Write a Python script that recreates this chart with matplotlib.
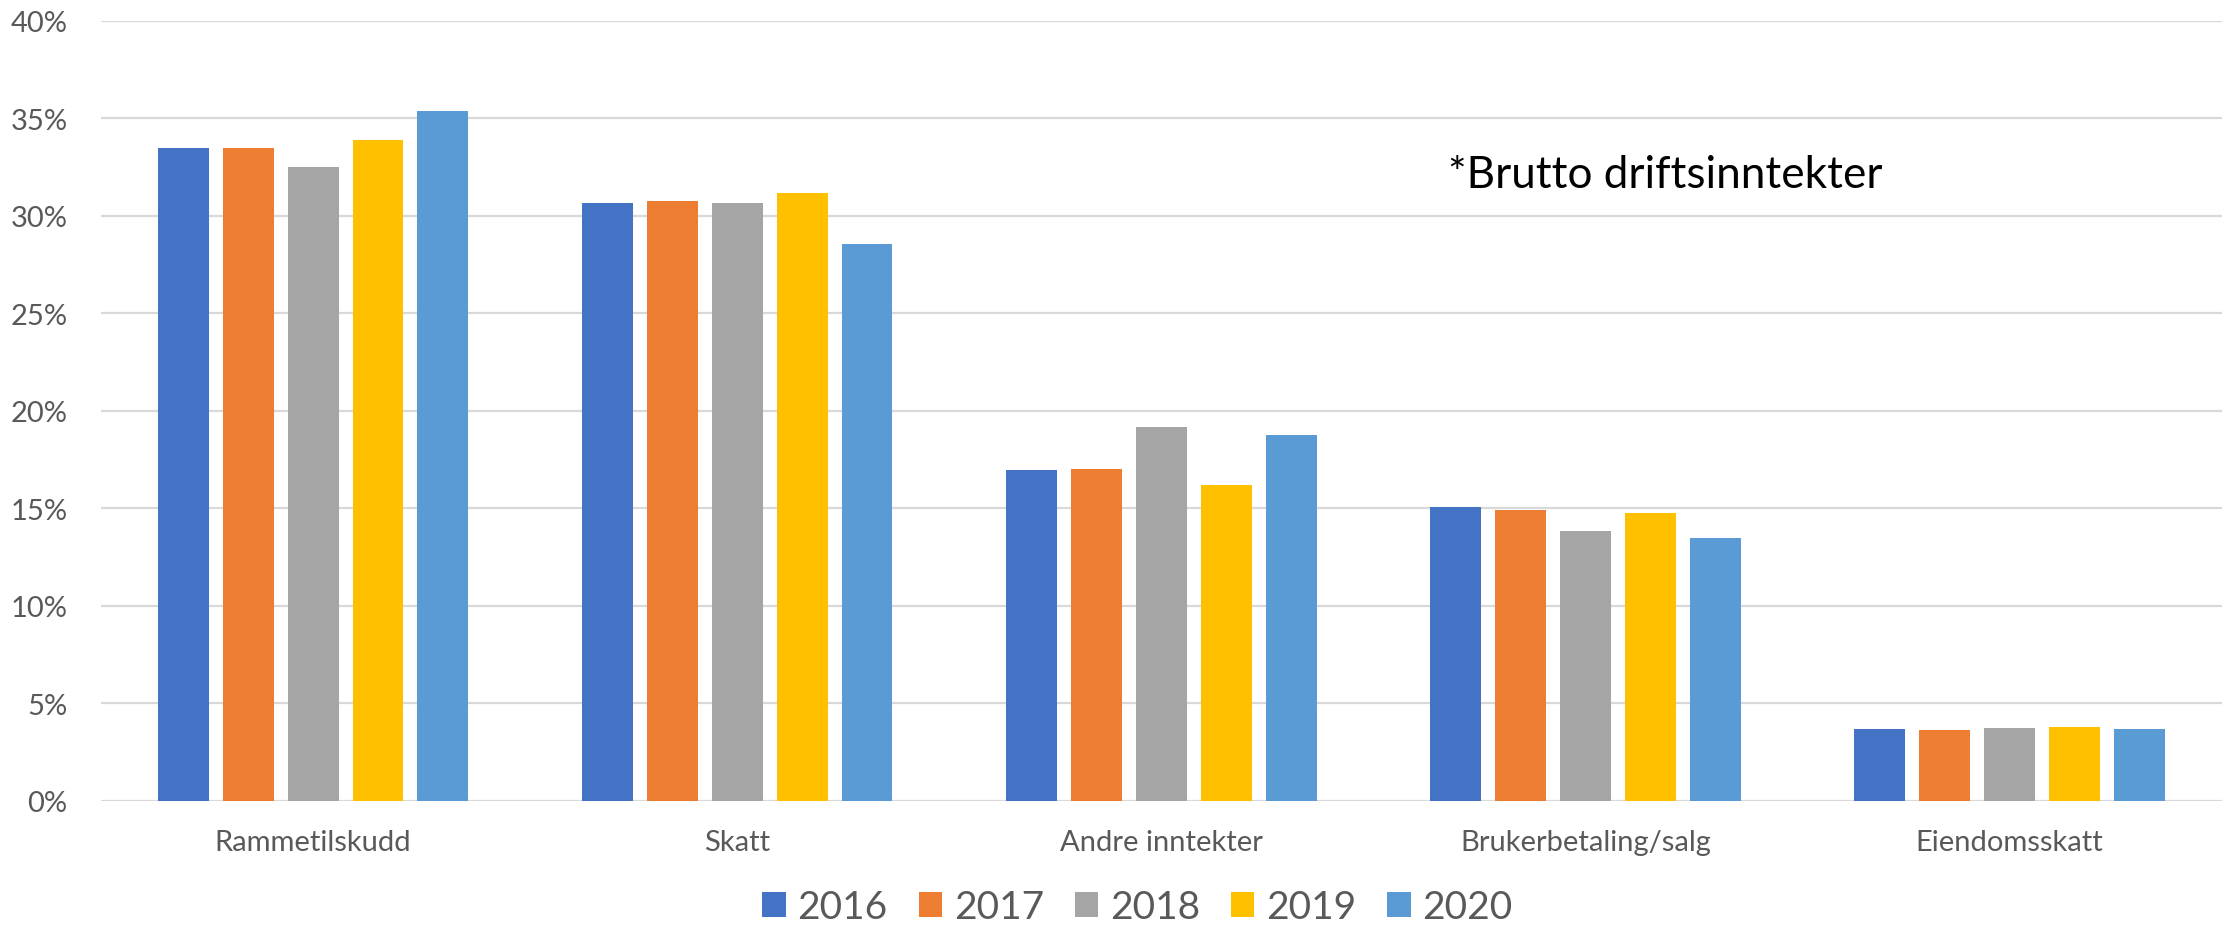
import matplotlib.pyplot as plt
import numpy as np
from matplotlib.ticker import PercentFormatter

plt.rcParams['font.family'] = ['Lato', 'DejaVu Sans']

categories = ["Rammetilskudd", "Skatt", "Andre inntekter", "Brukerbetaling/salg", "Eiendomsskatt"]
years = ["2016", "2017", "2018", "2019", "2020"]

v2016 = [33.5, 30.67, 16.97, 15.09, 3.67]
v2017 = [33.5, 30.77, 17.03, 14.92, 3.64]
v2018 = [32.5, 30.67, 19.2, 13.83, 3.72]
v2019 = [33.9, 31.2, 16.22, 14.75, 3.81]
v2020 = [35.4, 28.55, 18.77, 13.5, 3.67]
series = [v2016, v2017, v2018, v2019, v2020]

COLORS = ["#4472C4", "#ED7D31", "#A5A5A5", "#FFC000", "#5B9BD5"]
TEXT_GRAY = "#595959"

fig = plt.figure(figsize=(22.26, 9.28), dpi=100)
ax = fig.add_axes([0.0454, 0.1358, 0.9526, 0.8405])

x = np.arange(len(categories))
bar_w = 0.12
step = 0.153
for i, (vals, col) in enumerate(zip(series, COLORS)):
    ax.bar(x + (i - 2) * step, vals, width=bar_w, color=col, label=years[i], zorder=3)

ax.set_xlim(-0.5, len(categories) - 0.5)
ax.set_ylim(0, 40)
ax.set_yticks(np.arange(0, 41, 5))
ax.yaxis.set_major_formatter(PercentFormatter(decimals=0))
ax.set_xticks(x)
ax.set_xticklabels(categories)

ax.grid(axis='y', color="#D9D9D9", linewidth=1.6, zorder=0)
for s in ax.spines.values():
    s.set_visible(False)
ax.tick_params(axis='both', length=0, labelsize=21, colors=TEXT_GRAY)
ax.tick_params(axis='x', pad=20)
ax.tick_params(axis='y', pad=24)

fig.text(0.6505, 0.8105, "*Brutto driftsinntekter", fontsize=31.7, color="black", va='center', ha='left')

fig.legend(loc='center', bbox_to_anchor=(0.511, 0.0215), ncol=5, frameon=False,
           fontsize=28, handlelength=0.6, handleheight=0.6, handletextpad=0.3,
           columnspacing=0.8, labelcolor=TEXT_GRAY)

fig.savefig("out.png", dpi=100)
